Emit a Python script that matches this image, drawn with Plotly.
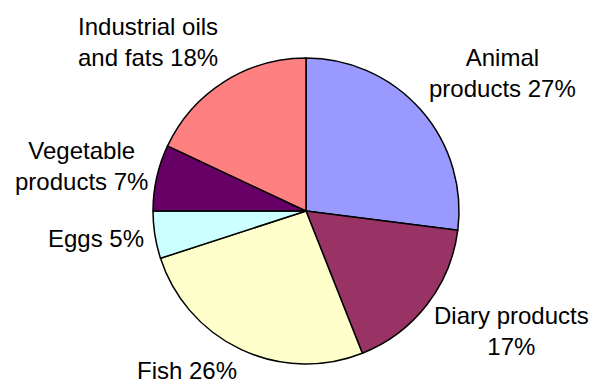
import plotly.graph_objects as go

# Share of each product group (percent), clockwise from 12 o'clock
categories = ["Animal products", "Diary products", "Fish", "Eggs",
              "Vegetable products", "Industrial oils and fats"]
shares = [27, 17, 26, 5, 7, 18]
colors = ["#9999FF", "#993366", "#FFFFCC", "#CCFFFF", "#660066", "#FF8080"]

# How each label is wrapped: first line, then the rest (None = one line)
label_lines = [
    ("Animal", "products {v}%"),
    ("Diary products", "{v}%"),
    ("Fish {v}%", None),
    ("Eggs {v}%", None),
    ("Vegetable", "products {v}%"),
    ("Industrial oils", "and fats {v}%"),
]
# Label centres in pixels (x from left, y from top)
label_pos = [(502, 73), (511, 331), (187, 370), (96, 238), (81, 166), (148, 42)]

W, H = 592, 383
cx, cy, r = 306, 211, 153

fig = go.Figure(go.Pie(
    labels=categories,
    values=shares,
    sort=False,
    direction="clockwise",
    rotation=0,
    marker=dict(colors=colors, line=dict(color="black", width=1.5)),
    textinfo="none",
    hoverinfo="label+percent",
    showlegend=False,
    domain=dict(x=[(cx - r) / W, (cx + r) / W],
                y=[(H - cy - r) / H, (H - cy + r) / H]),
))

for (first, rest), v, (px, py) in zip(label_lines, shares, label_pos):
    text = first.format(v=v)
    if rest:
        text += "<br>" + rest.format(v=v)
    fig.add_annotation(
        x=px / W, y=1 - py / H, xref="paper", yref="paper",
        text=text, showarrow=False, align="center",
        xanchor="center", yanchor="middle",
        font=dict(family="Liberation Sans, Arial, sans-serif", size=24, color="black"),
    )

fig.update_layout(
    width=W, height=H,
    margin=dict(l=0, r=0, t=0, b=0),
    paper_bgcolor="white",
    plot_bgcolor="white",
)

fig.write_html("out.html")
